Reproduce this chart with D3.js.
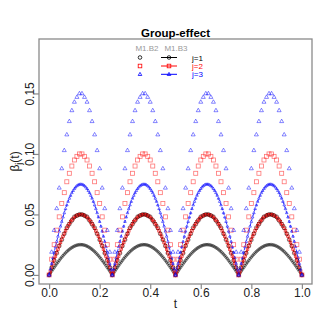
<!DOCTYPE html>
<html>
<head>
<meta charset="utf-8">
<script src="https://cdn.jsdelivr.net/npm/d3@7"></script>
<style>
  body { margin: 0; background: #fff; }
  svg { font-family: "Liberation Sans", Arial, sans-serif; }
</style>
</head>
<body>
<svg id="chart" width="333" height="333"></svg>
<script>
// grid of t for M1.B2 (sparse points)
const tSparse = [0,.01,.02,.03,.04,.05,.06,.07,.08,.09,.10,.11,.12,.13,.14,.15,.16,.17,.18,.19,.20,.21,.22,.23,.24,.25,
  .26,.27,.28,.29,.30,.31,.32,.33,.34,.35,.36,.37,.38,.39,.40,.41,.42,.43,.44,.45,.46,.47,.48,.49,.50,
  .51,.52,.53,.54,.55,.56,.57,.58,.59,.60,.61,.62,.63,.64,.65,.66,.67,.68,.69,.70,.71,.72,.73,.74,.75,
  .76,.77,.78,.79,.80,.81,.82,.83,.84,.85,.86,.87,.88,.89,.90,.91,.92,.93,.94,.95,.96,.97,.98,.99,1];

// grid of t for M1.B3 (dense, with lines)
const tDense = [0,.005,.01,.015,.02,.025,.03,.035,.04,.045,.05,.055,.06,.065,.07,.075,.08,.085,.09,.095,.10,.105,.11,.115,.12,.125,.13,.135,.14,.145,.15,.155,.16,.165,.17,.175,.18,.185,.19,.195,.20,.205,.21,.215,.22,.225,.23,.235,.24,.245,.25,
  .255,.26,.265,.27,.275,.28,.285,.29,.295,.30,.305,.31,.315,.32,.325,.33,.335,.34,.345,.35,.355,.36,.365,.37,.375,.38,.385,.39,.395,.40,.405,.41,.415,.42,.425,.43,.435,.44,.445,.45,.455,.46,.465,.47,.475,.48,.485,.49,.495,.50,
  .505,.51,.515,.52,.525,.53,.535,.54,.545,.55,.555,.56,.565,.57,.575,.58,.585,.59,.595,.60,.605,.61,.615,.62,.625,.63,.635,.64,.645,.65,.655,.66,.665,.67,.675,.68,.685,.69,.695,.70,.705,.71,.715,.72,.725,.73,.735,.74,.745,.75,
  .755,.76,.765,.77,.775,.78,.785,.79,.795,.80,.805,.81,.815,.82,.825,.83,.835,.84,.845,.85,.855,.86,.865,.87,.875,.88,.885,.89,.895,.90,.905,.91,.915,.92,.925,.93,.935,.94,.945,.95,.955,.96,.965,.97,.975,.98,.985,.99,.995,1];

// M1.B2 values, j=1..3
const b2j1 = [0,
  .006,.012,.018,.024,.029,.034,.039,.042,.045,.048,.049,.050,.050,.049,.048,.045,.042,.039,.034,.029,.024,.018,.012,.006,0,
  .006,.012,.018,.024,.029,.034,.039,.042,.045,.048,.049,.050,.050,.049,.048,.045,.042,.039,.034,.029,.024,.018,.012,.006,0,
  .006,.012,.018,.024,.029,.034,.039,.042,.045,.048,.049,.050,.050,.049,.048,.045,.042,.039,.034,.029,.024,.018,.012,.006,0,
  .006,.012,.018,.024,.029,.034,.039,.042,.045,.048,.049,.050,.050,.049,.048,.045,.042,.039,.034,.029,.024,.018,.012,.006,0];
const b2j2 = [0,
  .013,.025,.037,.048,.059,.068,.077,.084,.090,.095,.098,.100,.100,.098,.095,.090,.084,.077,.068,.059,.048,.037,.025,.013,0,
  .013,.025,.037,.048,.059,.068,.077,.084,.090,.095,.098,.100,.100,.098,.095,.090,.084,.077,.068,.059,.048,.037,.025,.013,0,
  .013,.025,.037,.048,.059,.068,.077,.084,.090,.095,.098,.100,.100,.098,.095,.090,.084,.077,.068,.059,.048,.037,.025,.013,0,
  .013,.025,.037,.048,.059,.068,.077,.084,.090,.095,.098,.100,.100,.098,.095,.090,.084,.077,.068,.059,.048,.037,.025,.013,0];
const b2j3 = [0,
  .019,.037,.055,.072,.088,.103,.116,.127,.136,.143,.147,.150,.150,.147,.143,.136,.127,.116,.103,.088,.072,.055,.037,.019,0,
  .019,.037,.055,.072,.088,.103,.116,.127,.136,.143,.147,.150,.150,.147,.143,.136,.127,.116,.103,.088,.072,.055,.037,.019,0,
  .019,.037,.055,.072,.088,.103,.116,.127,.136,.143,.147,.150,.150,.147,.143,.136,.127,.116,.103,.088,.072,.055,.037,.019,0,
  .019,.037,.055,.072,.088,.103,.116,.127,.136,.143,.147,.150,.150,.147,.143,.136,.127,.116,.103,.088,.072,.055,.037,.019,0];

// M1.B3 values, j=1..3
const b3j1 = [0,
  .0016,.0031,.0047,.0062,.0077,.0092,.0106,.0120,.0134,.0147,.0159,.0171,.0182,.0193,.0202,.0211,.0219,.0226,.0232,.0238,.0242,.0246,.0248,.0250,.0250,.0250,.0248,.0246,.0242,.0238,.0232,.0226,.0219,.0211,.0202,.0193,.0182,.0171,.0159,.0147,.0134,.0120,.0106,.0092,.0077,.0062,.0047,.0031,.0016,0,
  .0016,.0031,.0047,.0062,.0077,.0092,.0106,.0120,.0134,.0147,.0159,.0171,.0182,.0193,.0202,.0211,.0219,.0226,.0232,.0238,.0242,.0246,.0248,.0250,.0250,.0250,.0248,.0246,.0242,.0238,.0232,.0226,.0219,.0211,.0202,.0193,.0182,.0171,.0159,.0147,.0134,.0120,.0106,.0092,.0077,.0062,.0047,.0031,.0016,0,
  .0016,.0031,.0047,.0062,.0077,.0092,.0106,.0120,.0134,.0147,.0159,.0171,.0182,.0193,.0202,.0211,.0219,.0226,.0232,.0238,.0242,.0246,.0248,.0250,.0250,.0250,.0248,.0246,.0242,.0238,.0232,.0226,.0219,.0211,.0202,.0193,.0182,.0171,.0159,.0147,.0134,.0120,.0106,.0092,.0077,.0062,.0047,.0031,.0016,0,
  .0016,.0031,.0047,.0062,.0077,.0092,.0106,.0120,.0134,.0147,.0159,.0171,.0182,.0193,.0202,.0211,.0219,.0226,.0232,.0238,.0242,.0246,.0248,.0250,.0250,.0250,.0248,.0246,.0242,.0238,.0232,.0226,.0219,.0211,.0202,.0193,.0182,.0171,.0159,.0147,.0134,.0120,.0106,.0092,.0077,.0062,.0047,.0031,.0016,0];
const b3j2 = [0,
  .0031,.0063,.0094,.0124,.0155,.0184,.0213,.0241,.0268,.0294,.0319,.0342,.0365,.0385,.0405,.0422,.0438,.0452,.0465,.0476,.0484,.0491,.0496,.0499,.0500,.0499,.0496,.0491,.0484,.0476,.0465,.0452,.0438,.0422,.0405,.0385,.0365,.0342,.0319,.0294,.0268,.0241,.0213,.0184,.0155,.0124,.0094,.0063,.0031,0,
  .0031,.0063,.0094,.0124,.0155,.0184,.0213,.0241,.0268,.0294,.0319,.0342,.0365,.0385,.0405,.0422,.0438,.0452,.0465,.0476,.0484,.0491,.0496,.0499,.0500,.0499,.0496,.0491,.0484,.0476,.0465,.0452,.0438,.0422,.0405,.0385,.0365,.0342,.0319,.0294,.0268,.0241,.0213,.0184,.0155,.0124,.0094,.0063,.0031,0,
  .0031,.0063,.0094,.0124,.0155,.0184,.0213,.0241,.0268,.0294,.0319,.0342,.0365,.0385,.0405,.0422,.0438,.0452,.0465,.0476,.0484,.0491,.0496,.0499,.0500,.0499,.0496,.0491,.0484,.0476,.0465,.0452,.0438,.0422,.0405,.0385,.0365,.0342,.0319,.0294,.0268,.0241,.0213,.0184,.0155,.0124,.0094,.0063,.0031,0,
  .0031,.0063,.0094,.0124,.0155,.0184,.0213,.0241,.0268,.0294,.0319,.0342,.0365,.0385,.0405,.0422,.0438,.0452,.0465,.0476,.0484,.0491,.0496,.0499,.0500,.0499,.0496,.0491,.0484,.0476,.0465,.0452,.0438,.0422,.0405,.0385,.0365,.0342,.0319,.0294,.0268,.0241,.0213,.0184,.0155,.0124,.0094,.0063,.0031,0];
const b3j3 = [0,
  .0047,.0094,.0141,.0187,.0232,.0276,.0319,.0361,.0402,.0441,.0478,.0513,.0547,.0578,.0607,.0633,.0657,.0679,.0697,.0713,.0726,.0737,.0744,.0749,.0750,.0749,.0744,.0737,.0726,.0713,.0697,.0679,.0657,.0633,.0607,.0578,.0547,.0513,.0478,.0441,.0402,.0361,.0319,.0276,.0232,.0187,.0141,.0094,.0047,0,
  .0047,.0094,.0141,.0187,.0232,.0276,.0319,.0361,.0402,.0441,.0478,.0513,.0547,.0578,.0607,.0633,.0657,.0679,.0697,.0713,.0726,.0737,.0744,.0749,.0750,.0749,.0744,.0737,.0726,.0713,.0697,.0679,.0657,.0633,.0607,.0578,.0547,.0513,.0478,.0441,.0402,.0361,.0319,.0276,.0232,.0187,.0141,.0094,.0047,0,
  .0047,.0094,.0141,.0187,.0232,.0276,.0319,.0361,.0402,.0441,.0478,.0513,.0547,.0578,.0607,.0633,.0657,.0679,.0697,.0713,.0726,.0737,.0744,.0749,.0750,.0749,.0744,.0737,.0726,.0713,.0697,.0679,.0657,.0633,.0607,.0578,.0547,.0513,.0478,.0441,.0402,.0361,.0319,.0276,.0232,.0187,.0141,.0094,.0047,0,
  .0047,.0094,.0141,.0187,.0232,.0276,.0319,.0361,.0402,.0441,.0478,.0513,.0547,.0578,.0607,.0633,.0657,.0679,.0697,.0713,.0726,.0737,.0744,.0749,.0750,.0749,.0744,.0737,.0726,.0713,.0697,.0679,.0657,.0633,.0607,.0578,.0547,.0513,.0478,.0441,.0402,.0361,.0319,.0276,.0232,.0187,.0141,.0094,.0047,0];

const xTicks = [0, 0.2, 0.4, 0.6, 0.8, 1.0];
const yTicks = [0, 0.05, 0.10, 0.15];
const groupLabels = ["j=1", "j=2", "j=3"];
const modelLabels = ["M1.B2", "M1.B3"];

const colors = ["#000000", "#ff0000", "#0000ff"];
const denseColors = ["#333333", "#ee1111", "#2222ff"];
const sparseColors = ["rgba(0,0,0,0.5)", "rgba(255,0,0,0.55)", "rgba(0,0,255,0.6)"];
const shapes = ["circle", "square", "triangle"];
const dashes = [null, null, "3,2"];

const box = { left: 39, right: 312, top: 39, bottom: 284 };

const svg = d3.select("#chart");

const x = d3.scaleLinear().domain([-0.04, 1.04]).range([box.left, box.right]);
const y = d3.scaleLinear().domain([-0.0075, 0.195]).range([box.bottom, box.top]);

// marker helper
function marker(g, shape, cx, cy, size, color, sw) {
  sw = sw || 0.8;
  if (shape === "circle") {
    g.append("circle").attr("cx", cx).attr("cy", cy).attr("r", size * 0.5)
      .attr("fill", "none").attr("stroke", color).attr("stroke-width", sw);
  } else if (shape === "square") {
    g.append("rect").attr("x", cx - size / 2).attr("y", cy - size / 2)
      .attr("width", size).attr("height", size)
      .attr("fill", "none").attr("stroke", color).attr("stroke-width", sw);
  } else {
    const h = size * 0.87;
    g.append("path")
      .attr("d", `M${cx},${cy - h * 0.62}L${cx + size / 2},${cy + h * 0.38}L${cx - size / 2},${cy + h * 0.38}Z`)
      .attr("fill", "none").attr("stroke", color).attr("stroke-width", sw);
  }
}

// M1.B3: lines with dense markers
const b3 = [b3j1, b3j2, b3j3];
const line = d3.line().x(d => x(d[0])).y(d => y(d[1]));
b3.forEach((vals, j) => {
  const pts = tDense.map((t, i) => [t, vals[i]]);
  svg.append("path")
    .datum(pts)
    .attr("d", line)
    .attr("fill", "none")
    .attr("stroke", denseColors[j])
    .attr("stroke-width", 0.9)
    .attr("stroke-dasharray", dashes[j]);
  const g = svg.append("g");
  pts.forEach(p => marker(g, shapes[j], x(p[0]), y(p[1]), 2.6, denseColors[j], 0.65));
});

// M1.B2: points only
const b2 = [b2j1, b2j2, b2j3];
b2.forEach((vals, j) => {
  const g = svg.append("g");
  tSparse.forEach((t, i) => marker(g, shapes[j], x(t), y(vals[i]), 4, sparseColors[j], 0.8));
});

// box
svg.append("rect")
  .attr("x", box.left).attr("y", box.top)
  .attr("width", box.right - box.left).attr("height", box.bottom - box.top)
  .attr("fill", "none").attr("stroke", "#8a8a8a").attr("stroke-width", 1.3);

// x axis
const xAxis = svg.append("g")
  .attr("transform", `translate(0,${box.bottom})`)
  .call(d3.axisBottom(x).tickValues(xTicks).tickFormat(d3.format(".1f")).tickSize(5).tickSizeOuter(0));
xAxis.select(".domain").remove();
xAxis.selectAll("line").attr("stroke", "#8a8a8a").attr("stroke-width", 1.2);
xAxis.selectAll("text").attr("font-size", 12).attr("fill", "#222").attr("dy", null).attr("y", 13);

// y axis
const yAxis = svg.append("g")
  .attr("transform", `translate(${box.left},0)`)
  .call(d3.axisLeft(y).tickValues(yTicks).tickFormat(d3.format(".2f")).tickSize(5).tickSizeOuter(0));
yAxis.select(".domain").remove();
yAxis.selectAll("line").attr("stroke", "#8a8a8a").attr("stroke-width", 1.2);
yAxis.selectAll("text")
  .attr("font-size", 12).attr("fill", "#222")
  .attr("x", null).attr("dy", null)
  .attr("text-anchor", "middle")
  .attr("transform", "translate(-5,0) rotate(-90)");

// axis labels
svg.append("text")
  .attr("x", (box.left + box.right) / 2).attr("y", 308)
  .attr("text-anchor", "middle").attr("font-size", 12).attr("fill", "#222")
  .text("t");

const yl = svg.append("text")
  .attr("transform", `translate(19,${(box.top + box.bottom) / 2}) rotate(-90)`)
  .attr("text-anchor", "middle").attr("font-size", 12).attr("fill", "#222");
yl.append("tspan").text("β");
yl.append("tspan").attr("font-size", 9).attr("dy", 3).text("j");
yl.append("tspan").attr("dy", -3).text("(t)");

// title
svg.append("text")
  .attr("x", (box.left + box.right) / 2).attr("y", 36.5)
  .attr("text-anchor", "middle").attr("font-size", 11.5).attr("font-weight", "bold")
  .text("Group-effect");

// legend
const legX = [147, 176];
const legRowY = [57.5, 66, 74.3];
svg.selectAll(".leghead")
  .data(modelLabels)
  .join("text")
  .attr("x", (d, i) => legX[i])
  .attr("y", 50.5)
  .attr("text-anchor", "middle")
  .attr("font-size", 8)
  .attr("fill", "#9a9a9a")
  .text(d => d);

const leg = svg.append("g");
groupLabels.forEach((lab, j) => {
  const ry = legRowY[j];
  marker(leg, shapes[j], 140, ry, 3.6, colors[j]);
  leg.append("line")
    .attr("x1", 161).attr("x2", 177).attr("y1", ry).attr("y2", ry)
    .attr("stroke", colors[j]).attr("stroke-width", 1);
  marker(leg, shapes[j], 169, ry, 3.6, colors[j]);
  leg.append("text")
    .attr("x", 192).attr("y", ry + 3)
    .attr("font-size", 8).attr("fill", colors[j])
    .text(lab);
});
</script>
</body>
</html>
